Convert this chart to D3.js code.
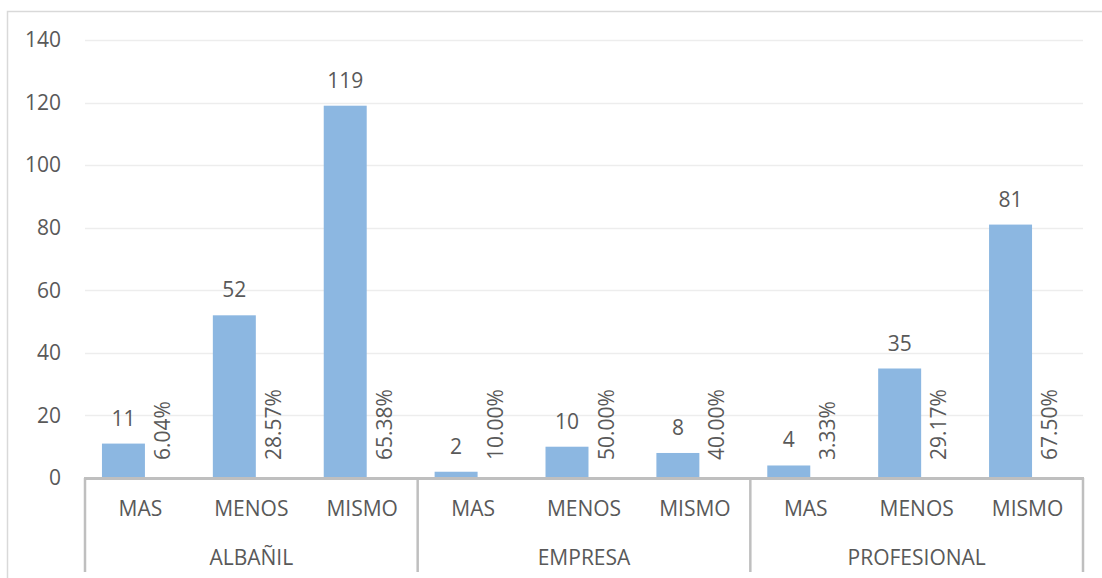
<!DOCTYPE html>
<html><head><meta charset="utf-8">
<script src="https://cdn.jsdelivr.net/npm/d3@7/dist/d3.min.js"></script>
<style>body{margin:0;background:#fff}svg{display:block}text{font-family:"Open Sans",sans-serif;fill:#595959}</style>
</head><body>
<script>
const groups = ["ALBAÑIL","EMPRESA","PROFESIONAL"];
const subcats = ["MAS","MENOS","MISMO"];
const counts = [[11,52,119],[2,10,8],[4,35,81]];
const pcts = [["6.04%","28.57%","65.38%"],["10.00%","50.00%","40.00%"],["3.33%","29.17%","67.50%"]];
const yTicks = [0,20,40,60,80,100,120,140];

const W=1102,H=578;
const svg=d3.select("body").append("svg").attr("width",W).attr("height",H);
// outer border
svg.append("path").attr("d","M7.5,578V11.5H1102").attr("fill","none").attr("stroke","#d9d9d9").attr("stroke-width",1.5);

const x0=d3.scaleBand().domain(groups).range([85,1083]);
const x1=d3.scaleBand().domain(subcats).range([0,x0.bandwidth()]);
const x2=d3.scaleBand().domain(["count","pct"]).range([0,x1.bandwidth()]).paddingInner(0).paddingOuter(0.29).align(0.68);
const y=d3.scaleLinear().domain([0,140]).range([478,40]);

// gridlines
svg.append("g").selectAll("line").data(yTicks.filter(d=>d>0)).join("line")
 .attr("x1",85).attr("x2",1083).attr("y1",d=>Math.round(y(d))+0.5).attr("y2",d=>Math.round(y(d))+0.5)
 .attr("stroke","#ededed").attr("stroke-width",1.5);

// y axis labels
const ya=d3.axisLeft(y).tickValues(yTicks).tickSize(0).tickPadding(0);
const yg=svg.append("g").attr("transform","translate(61,0)").call(ya);
yg.select(".domain").remove();
yg.selectAll("text").style("font-size","21px").attr("fill","#595959").style("font-family","'Open Sans',sans-serif");

const data=[];
groups.forEach((g,gi)=>subcats.forEach((s,si)=>data.push({g,s,v:counts[gi][si],p:pcts[gi][si]})));

// bars
svg.append("g").selectAll("rect").data(data).join("rect")
 .attr("x",d=>x0(d.g)+x1(d.s)+x2("count")).attr("width",x2.bandwidth())
 .attr("y",d=>y(d.v)).attr("height",d=>y(0)-y(d.v)).attr("fill","#8cb7e1");

// count labels
svg.append("g").selectAll("text").data(data).join("text")
 .attr("x",d=>x0(d.g)+x1(d.s)+x2("count")+x2.bandwidth()/2).attr("y",d=>y(d.v)-18)
 .attr("text-anchor","middle").style("font-size","21px").text(d=>d.v);

// pct labels
svg.append("g").selectAll("text").data(data).join("text")
 .attr("transform",d=>`translate(${x0(d.g)+x1(d.s)+x2("pct")+x2.bandwidth()/2-2},${y(0)-18}) rotate(-90)`)
 .attr("text-anchor","start").attr("dominant-baseline","middle").style("font-size","21px").text(d=>d.p);

// category axis
svg.append("line").attr("x1",84).attr("x2",1084).attr("y1",478.5).attr("y2",478.5).attr("stroke","#bfbfbf").attr("stroke-width",3);
const seps=groups.map(g=>x0(g)).concat([x0.range()[1]]);
svg.append("g").selectAll("line").data(seps).join("line")
 .attr("x1",d=>d).attr("x2",d=>d).attr("y1",478).attr("y2",572).attr("stroke","#bfbfbf").attr("stroke-width",2.5);

svg.append("g").selectAll("text").data(data).join("text")
 .attr("x",d=>x0(d.g)+x1(d.s)+x1.bandwidth()/2).attr("y",510).attr("dominant-baseline","middle")
 .attr("text-anchor","middle").style("font-size","21px").text(d=>d.s);
svg.append("g").selectAll("text").data(groups).join("text")
 .attr("x",d=>x0(d)+x0.bandwidth()/2).attr("y",559).attr("dominant-baseline","middle")
 .attr("text-anchor","middle").style("font-size","21px").text(d=>d);
</script>
</body></html>
